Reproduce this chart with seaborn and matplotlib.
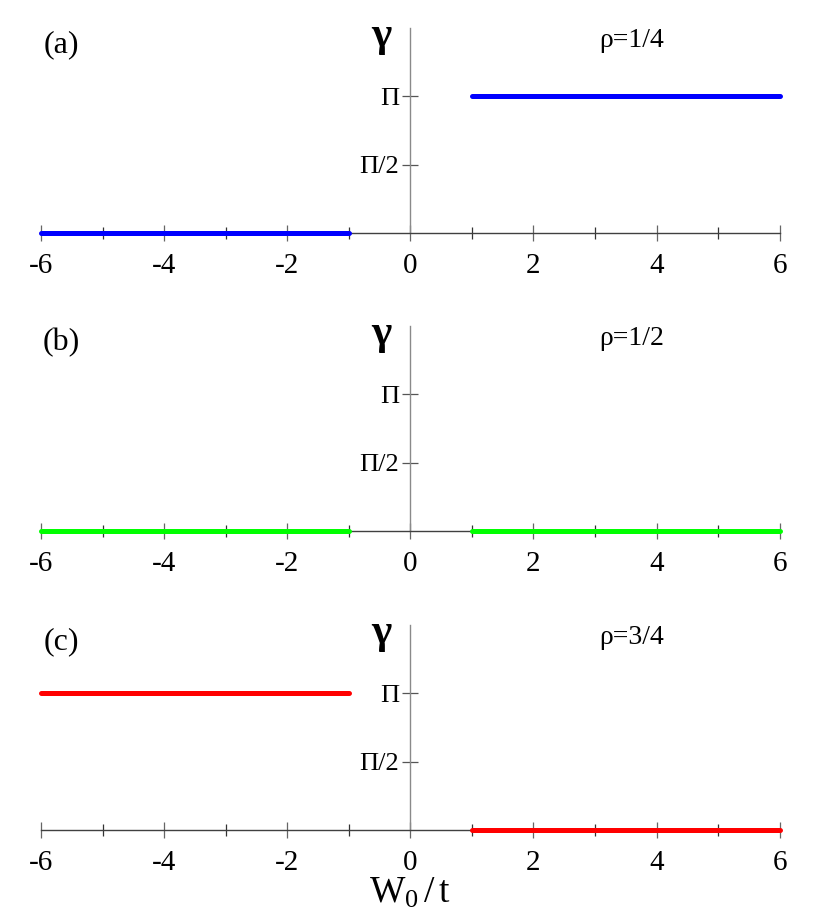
import numpy as np
import pandas as pd
import seaborn as sns
import matplotlib.pyplot as plt

# data: phase gamma vs W0/t for three fillings, two branches each
panel_tags = ['(a)', '(b)', '(c)']
fillings = ['ρ=1/4', 'ρ=1/2', 'ρ=3/4']
colors = ['#0000ff', '#00ff00', '#ff0000']
x_left = [-6, -1]
x_right = [1, 6]
gamma_left = [0.0, 0.0, np.pi]    # value for W0/t < -1
gamma_right = [np.pi, 0.0, 0.0]   # value for W0/t > 1
xticks = [-6, -4, -2, 0, 2, 4, 6]
yticks = [np.pi / 2, np.pi]
ytick_labels = ['Π/2', 'Π']

sns.set_style('white')
plt.rcParams['font.family'] = ['Liberation Serif', 'DejaVu Serif']
plt.rcParams['mathtext.fontset'] = 'custom'
plt.rcParams['mathtext.rm'] = 'Liberation Serif'
plt.rcParams['mathtext.it'] = 'Liberation Serif'
plt.rcParams['text.color'] = 'black'
plt.rcParams['axes.labelcolor'] = 'black'
plt.rcParams['xtick.labelcolor'] = 'black'
plt.rcParams['ytick.labelcolor'] = 'black'

fig = plt.figure(figsize=(8.3, 9.23), dpi=100)
bottoms = [0.7476, 0.4247, 0.1008]

for i in range(3):
    ax = fig.add_axes([0.0494, bottoms[i], 0.890, 0.222])
    for xs, g in [(x_left, gamma_left[i]), (x_right, gamma_right[i])]:
        seg = pd.DataFrame({'x': xs, 'y': [g, g]})
        sns.lineplot(data=seg, x='x', y='y', color=colors[i], lw=3.6,
                     ax=ax, clip_on=False, zorder=2.6)

    ax.set_xlim(-6, 6)
    ax.set_ylim(0, 1.5 * np.pi)
    ax.set_xlabel('')
    ax.set_ylabel('')

    ax.spines['top'].set_visible(False)
    ax.spines['right'].set_visible(False)
    ax.spines['left'].set_position(('data', 0))
    ax.spines['left'].set_color('#8a8a8a')
    ax.spines['bottom'].set_color('#404040')
    ax.spines['left'].set_linewidth(1.0)
    ax.spines['bottom'].set_linewidth(1.0)

    ax.set_xticks(xticks)
    ax.set_xticklabels([str(t) for t in xticks], fontsize=21)
    ax.set_xticks(np.arange(-5, 6, 2), minor=True)
    ax.tick_params(axis='x', which='major', bottom=True, direction='inout',
                   length=11, width=0.9, color='#666666', pad=9)
    ax.tick_params(axis='x', which='minor', bottom=True, direction='inout',
                   length=8, width=0.9, color='#333333')
    ax.set_yticks(yticks)
    ax.set_yticklabels(ytick_labels, fontsize=19)
    ax.tick_params(axis='y', which='major', left=True, direction='inout',
                   length=12, width=0.9, color='#555555', pad=2)

    ax.text(-5.67, 1.38 * np.pi, panel_tags[i], fontsize=23,
            ha='center', va='center')
    ax.text(-0.47, 1.44 * np.pi, 'γ', fontsize=31, fontweight='bold',
            ha='center', va='center')
    ax.text(3.6, 1.41 * np.pi, fillings[i], fontsize=20,
            ha='center', va='center')

    if i == 2:
        ax.set_xlabel(r'$\mathrm{W_0\,/\,t}$', fontsize=27, labelpad=0)

fig.savefig('out.png', dpi=100)
